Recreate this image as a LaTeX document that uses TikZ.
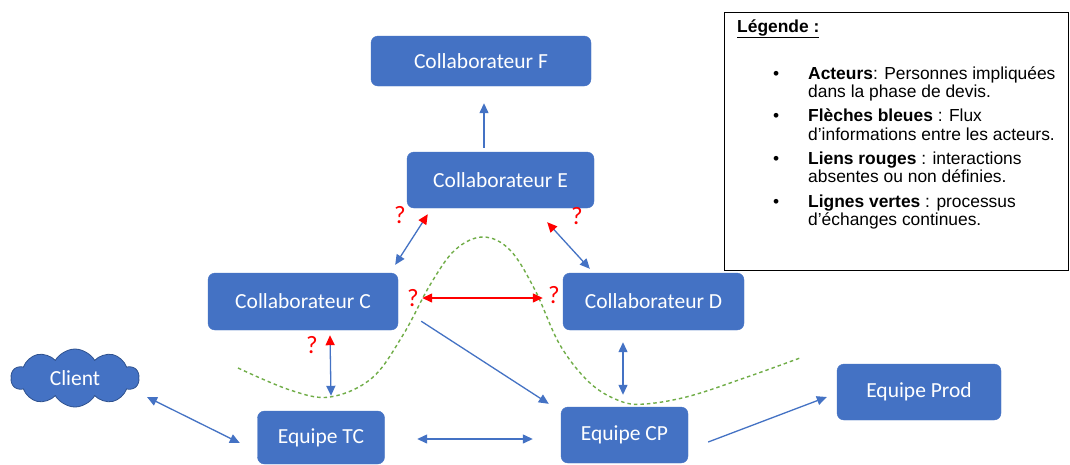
\documentclass[tikz,border=0pt]{standalone}
\usepackage{fontspec}
\setmainfont{Liberation Sans}
\newfontfamily\calib{Carlito}
\usetikzlibrary{arrows.meta,shapes.symbols,calc}
\definecolor{boxblue}{HTML}{4472C4}
\definecolor{darkblue}{HTML}{2F528F}
\definecolor{lnred}{HTML}{FF0000}
\definecolor{lngreen}{HTML}{70AD47}
\tikzset{
  actor/.style={rectangle, rounded corners=7pt, fill=boxblue, draw=boxblue, text=white,
    font=\calib\fontsize{21.5}{25}\selectfont, inner sep=0pt},
  bl/.style={draw=boxblue, line width=1.3pt},
  rd/.style={draw=lnred, line width=1.3pt},
  qm/.style={text=lnred, font=\calib\fontsize{25}{28}\selectfont, inner sep=0pt},
  legtxt/.style={font=\fontsize{17.4}{18.5}\selectfont, align=left, inner sep=0pt, anchor=base west},
  tb/.style={arrows={-Triangle[length=10pt,width=9pt]}},
  tbb/.style={arrows={Triangle[length=10pt,width=9pt]-Triangle[length=10pt,width=9pt]}},
  tbr/.style={arrows={Triangle[length=10pt,width=9pt]-Triangle[length=10pt,width=9pt,color=lnred]}},
  trb/.style={arrows={Triangle[length=10pt,width=9pt,color=lnred]-Triangle[length=10pt,width=9pt]}},
}
\begin{document}
\begin{tikzpicture}[x=1pt,y=-1pt]
\useasboundingbox (0,0) rectangle (1070,464);
\clip (0,0) rectangle (1070,464);
\fill[white] (0,0) rectangle (1070,464);

% green dashed curve
\draw[lngreen, line width=1.4pt, dash pattern=on 3.5pt off 3pt]
  plot[smooth, tension=0.6] coordinates {(238,368) (290,390) (330,397) (372,378) (403,335) (430,285) (455,250) (483,237) (510,250) (535,290) (560,345) (590,383) (620,401) (645,404) (690,396) (750,376) (800,358)};

% nodes
\node[actor, minimum width=220pt, minimum height=50pt] (F) at (481,61) {Collaborateur F};
\node[actor, minimum width=187pt, minimum height=56pt] (E) at (500.5,180) {Collaborateur E};
\node[actor, minimum width=190pt, minimum height=57pt] (C) at (303,301.5) {Collaborateur C};
\node[actor, minimum width=181pt, minimum height=57pt] (D) at (653.5,301.5) {Collaborateur D};
\node[actor, minimum width=127pt, minimum height=53pt] (TC) at (321,437.5) {Equipe TC};
\node[actor, minimum width=127pt, minimum height=56pt] (CP) at (624.5,435) {Equipe CP};
\node[actor, minimum width=164pt, minimum height=56pt] (Prod) at (919,392) {Equipe Prod};
\node[cloud, cloud puffs=10, cloud puff arc=120, aspect=2.1, fill=boxblue, draw=darkblue, line width=0.8pt,
  text=white, font=\calib\fontsize{21.5}{25}\selectfont, minimum width=128pt, minimum height=58pt, inner sep=0pt] (Client) at (75,378) {Client};

% legend
\node[draw=black, line width=1pt, minimum width=344pt, minimum height=258pt, inner sep=0pt] (Leg) at (896,141) {};
\node[legtxt, font=\bfseries\fontsize{17.4}{18.5}\selectfont] (LegT) at (737,32) {\underline{Légende :}};
\node[legtxt] (b1) at (773,79) {•};
\node[legtxt] (b2) at (773,121.5) {•};
\node[legtxt] (b3) at (773,164) {•};
\node[legtxt] (b4) at (773,207) {•};
\node[legtxt] (l1) at (808,97.5) {\textbf{Acteurs}: Personnes impliquées\\dans la phase de devis.};
\node[legtxt] (l2) at (808,140) {\textbf{Flèches bleues} : Flux\\d’informations entre les acteurs.};
\node[legtxt] (l3) at (808,182.5) {\textbf{Liens rouges} : interactions\\absentes ou non définies.};
\node[legtxt] (l4) at (808,225.5) {\textbf{Lignes vertes} : processus\\d’échanges continues.};

% question marks
\node[qm] (q1) at (400,215) {?};
\node[qm] (q2) at (577,216) {?};
\node[qm] (q3) at (413,298) {?};
\node[qm] (q4) at (554,295) {?};
\node[qm] (q5) at (312,345) {?};

% connectors
\draw[bl, tb] ($(E.north)+(-16.5,-4)$) -- ($(F.south)+(3,17)$);
\draw[bl, tbr] ($(C.north east)+(-3,-8)$) -- ($(E.south west)+(21,6)$);
\draw[bl, trb] ($(E.south east)+(-47,14)$) -- ($(D.north west)+(27,-4)$);
\draw[rd, arrows={Triangle[length=10pt,width=9pt]-Triangle[length=10pt,width=9pt]}] ($(C.east)+(24,-3.5)$) -- ($(D.west)+(-20,-3.5)$);
\draw[bl, trb] ($(C.south)+(27,5)$) -- ($(TC.north)+(10,-15)$);
\draw[bl, tbb] ($(Client.center)+(72,19)$) -- ($(TC.west)+(-17.5,5.5)$);
\draw[bl, tbb] ($(TC.east)+(32.5,1.5)$) -- ($(CP.west)+(-28,4)$);
\draw[bl, tb] ($(C.south east)+(23,-9)$) -- ($(CP.north west)+(-12,-3)$);
\draw[bl, tbb] ($(D.south)+(-30.5,12)$) -- ($(CP.north)+(-1.5,-12)$);
\draw[bl, tb] ($(CP.east)+(20,7)$) -- ($(Prod.west)+(-10,5)$);
\end{tikzpicture}
\end{document}
